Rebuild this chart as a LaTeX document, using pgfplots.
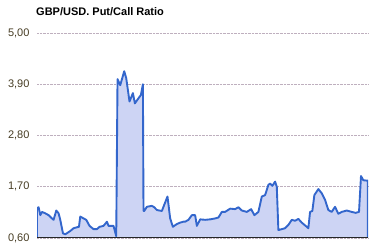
\documentclass[border=0pt]{standalone}
\usepackage{fontspec}
\setmainfont{Liberation Sans}
\usepackage{pgfplots}
\pgfplotsset{compat=1.18}
\definecolor{lineblue}{RGB}{51,102,204}
\definecolor{areablue}{RGB}{205,212,244}
\definecolor{gridgray}{RGB}{190,175,190}
\definecolor{ticktext}{RGB}{70,60,35}
\begin{document}
\begin{tikzpicture}[x=1bp,y=1bp]
\useasboundingbox (0,0) rectangle (370,245);
\node[anchor=base west, font=\fontsize{11bp}{13bp}\selectfont\bfseries, text=black, inner sep=0pt] at (36,230) {GBP/USD. Put/Call Ratio};
\begin{axis}[
  at={(37bp,7bp)}, anchor=south west,
  scale only axis, width=331bp, height=205bp,
  xmin=36.7, xmax=368, ymin=0.6, ymax=5.0,
  ytick={0.6,1.7,2.8,3.9,5.0},
  yticklabels={{0,60},{1,70},{2,80},{3,90},{5,00}},
  xtick=\empty,
  axis line style={draw=none},
  major tick length=0pt,
  ymajorgrids,
  grid style={gridgray, densely dotted, line width=0.6pt},
  yticklabel style={font=\fontsize{11bp}{13bp}\selectfont, text=ticktext, xshift=-4bp},
]
\addplot[draw=lineblue, line width=1.9pt, fill=areablue, line join=round] coordinates {
(36.7,1.24)(38.3,1.26)(40,1.09)(41.7,1.16)(45,1.13)(48.3,1.09)(51.7,1.02)(53.3,0.99)
(56,1.19)(58.3,1.13)(60,0.99)(62.7,0.70)(65,0.68)(70,0.75)(73.3,0.81)(76.7,0.83)
(78.7,0.84)(80,1.06)(83.3,1.02)(86,0.99)(89.3,0.86)(93.3,0.79)(96.7,0.79)(99.3,0.84)
(103.3,0.86)(106.7,0.95)(108.3,0.86)(113.3,0.86)(116,0.64)(117.3,4.01)(120,3.88)
(124,4.18)(126,4.03)(129.3,3.53)(132.7,3.71)(134.7,3.49)(138.3,3.60)(140.7,3.67)
(142.7,3.90)(143.3,1.18)(144,1.18)(146.7,1.27)(151.7,1.29)(154,1.26)(156.7,1.20)
(161.7,1.18)(164,1.31)(167.3,1.49)(170,1.02)(172.7,0.84)(176.7,0.90)(180,0.93)
(183.3,0.95)(185,0.95)(188.3,0.99)(191.7,1.09)(195,1.09)(196.7,0.86)(200,1.00)
(205,0.99)(210,1.00)(215,1.02)(218.3,1.04)(221.7,1.16)(225,1.16)(230,1.23)(235,1.22)
(238.3,1.26)(241.7,1.19)(246.7,1.16)(251,1.22)(254.3,1.09)(258.3,1.16)(261.7,1.49)
(265,1.52)(268.3,1.74)(270,1.77)(272.3,1.72)(275,1.81)(276.7,1.70)(278.3,0.77)
(281.7,0.79)(285,0.81)(288.3,0.88)(291.7,0.99)(295,0.97)(298.3,1.01)(301.7,0.93)
(306.7,0.84)(308.3,0.81)(310,1.16)(312.3,1.18)(314.3,1.52)(318.3,1.65)(321.7,1.56)
(325,1.42)(328.3,1.20)(331.7,1.16)(335,1.27)(338.3,1.12)(341.7,1.16)(346.7,1.19)
(351.7,1.16)(355.7,1.14)(359,1.16)(361,1.93)(363.3,1.84)(367.7,1.83)
} \closedcycle;
\draw[black!85, line width=1.1pt] (rel axis cs:0,0) -- (rel axis cs:1,0);
\end{axis}
\end{tikzpicture}
\end{document}
